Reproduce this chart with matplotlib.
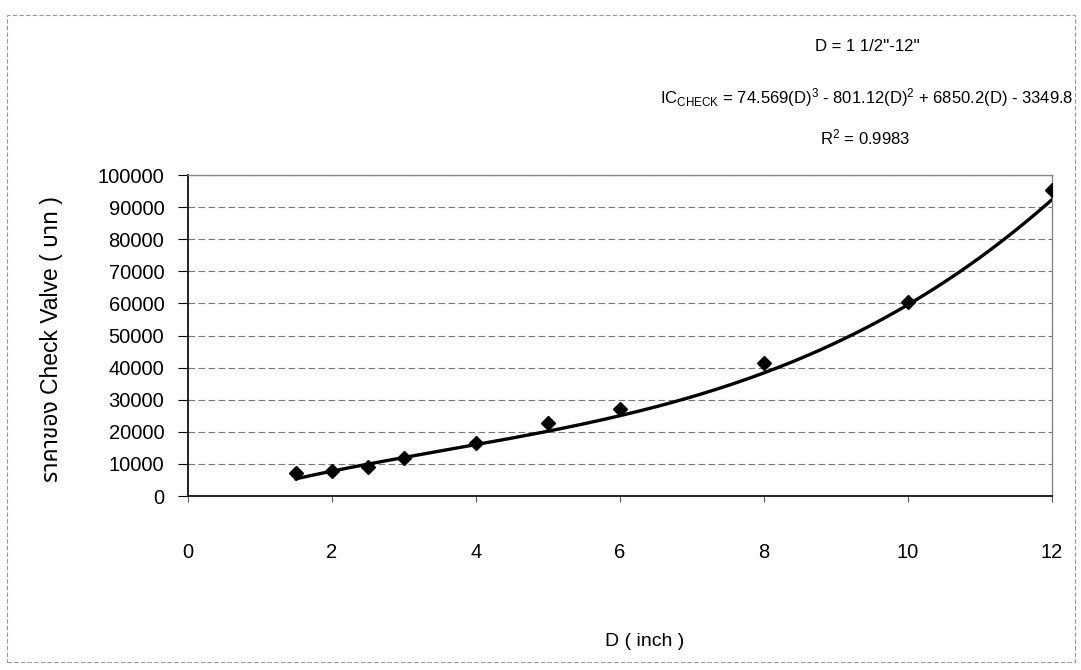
import numpy as np
import matplotlib.pyplot as plt
from matplotlib.patches import Rectangle

plt.rcParams['font.family'] = ['Liberation Sans', 'Noto Sans Thai', 'Loma', 'Garuda', 'Norasi',
                               'TH Sarabun New', 'Tlwg Typo', 'DejaVu Sans']
plt.rcParams['mathtext.default'] = 'regular'

# pipe diameter (inch) and check valve price (baht)
diam = [1.5, 2, 2.5, 3, 4, 5, 6, 8, 10, 12]
price = [7200, 7900, 9100, 11900, 16600, 22800, 27200, 41500, 60300, 95300]

# cubic trendline coefficients
coef = [74.569, -801.12, 6850.2, -3349.8]

xticks = [0, 2, 4, 6, 8, 10, 12]
yticks = list(range(0, 100001, 10000))

fig = plt.figure(figsize=(10.81, 6.70), dpi=100)
ax = fig.add_axes([0.1739, 0.2597, 0.7993, 0.4791])

xs = np.linspace(1.5, 12, 200)
ax.plot(xs, np.polyval(coef, xs), color='black', lw=2.4, zorder=3)
ax.plot(diam, price, 'D', color='black', ms=7.5, zorder=4)

ax.set_xlim(0, 12)
ax.set_ylim(0, 100000)
ax.set_xticks(xticks)
ax.set_yticks(yticks)
ax.tick_params(axis='x', direction='out', length=4, pad=30, labelsize=14.5, color='#555555')
ax.tick_params(axis='y', direction='out', length=7, pad=10, labelsize=14.5)
ax.grid(axis='y', color='#777777', ls=(0, (6, 3)), lw=0.8)
for s in ['top', 'right']:
    ax.spines[s].set_color('#888888')
    ax.spines[s].set_linewidth(1)
for s in ['left', 'bottom']:
    ax.spines[s].set_color('#222222')
    ax.spines[s].set_linewidth(1.4)

ax.set_xlabel('D ( inch )', fontsize=14)
ax.xaxis.set_label_coords(0.529, -0.427)
ax.set_ylabel('ราคาของ Check Valve ( บาท )', fontsize=16.5)
ax.yaxis.set_label_coords(-0.145, 0.49)

fig.text(0.802, 0.930, "D = 1 1/2''-12''", fontsize=12, ha='center', va='center')
fig.text(0.8016, 0.855, 'IC$_{CHECK}$ = 74.569(D)$^{3}$ - 801.12(D)$^{2}$ + 6850.2(D) - 3349.8',
         fontsize=12, ha='center', va='center')
fig.text(0.800, 0.795, 'R$^{2}$ = 0.9983', fontsize=12, ha='center', va='center')

# outer chart border
fig.patches.append(Rectangle((0.0065, 0.012), 0.988, 0.966, transform=fig.transFigure,
                             fill=False, edgecolor='#999999', lw=0.8, ls=(0, (4, 2))))

fig.savefig('out.png', dpi=100)
